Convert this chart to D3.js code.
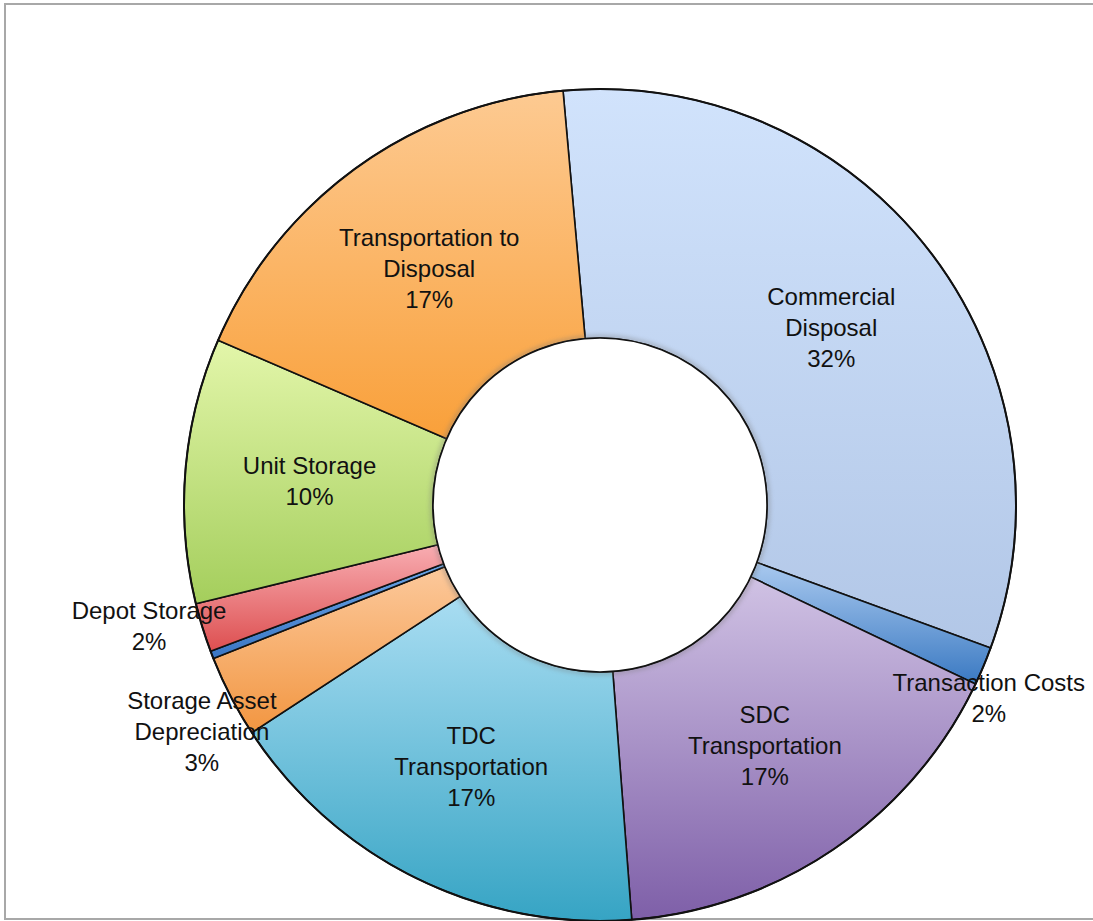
<!DOCTYPE html>
<html>
<head>
<meta charset="utf-8">
<script src="https://cdn.jsdelivr.net/npm/d3@7"></script>
<style>
  html, body { margin: 0; padding: 0; background: #fff; overflow: hidden; }
  svg { display: block; }
</style>
</head>
<body>
<svg id="chart" width="1093" height="921"></svg>
<script>
// ---- data (clockwise from the top) ----
const categories = ["Commercial Disposal", "Transaction Costs", "SDC Transportation", "TDC Transportation",
                    "Storage Asset Depreciation", "Other", "Depot Storage", "Unit Storage", "Transportation to Disposal"];
const values = [32.0, 1.5, 16.7, 17.0, 3.2, 0.3, 1.9, 10.3, 17.1];
const labelLines = [["Commercial", "Disposal"], ["Transaction Costs"], ["SDC", "Transportation"], ["TDC", "Transportation"],
                    ["Storage Asset", "Depreciation"], null, ["Depot Storage"], ["Unit Storage"], ["Transportation to", "Disposal"]];
const colorsTop = ["#d1e3fc", "#a9c9ef", "#d0c2e4", "#a9ddf2", "#fcc99c", "#6aa5e6", "#f8adb2", "#e3f6aa", "#fdca92"];
const colorsBottom = ["#b2c7e7", "#3a79c2", "#7e5fa8", "#36a4c4", "#f29641", "#3a76c4", "#dd4f50", "#a4ce5c", "#f9a03a"];
// label placement: [radius, angle shift in degrees]; null = ring centroid
const labelPlace = [null, [434, 3.6], null, null, [458, -2.2], null, [467, 2.1], null, null];

const cx = 600, cy = 505, rOuter = 416, rInner = 167;
const startDeg = -5.1;

const svg = d3.select("#chart");
const defs = svg.append("defs");

// frame (right edge runs off the page)
svg.append("rect").attr("x", 5).attr("y", 4).attr("width", 1200).attr("height", 915)
  .attr("fill", "#fff").attr("stroke", "#a8a8a8").attr("stroke-width", 2);

const f = defs.append("filter").attr("id", "sh").attr("x", "-20%").attr("y", "-20%").attr("width", "140%").attr("height", "140%");
f.append("feGaussianBlur").attr("stdDeviation", 2.5);

categories.forEach((c, i) => {
  const g = defs.append("linearGradient").attr("id", "grad" + i)
    .attr("x1", 0).attr("y1", 0).attr("x2", 0).attr("y2", 1);
  g.append("stop").attr("offset", "0%").attr("stop-color", colorsTop[i]);
  g.append("stop").attr("offset", "100%").attr("stop-color", colorsBottom[i]);
});

const start = startDeg * Math.PI / 180;
const pie = d3.pie().sort(null).value(d => d)
  .startAngle(start).endAngle(start + 2 * Math.PI);
const arcs = pie(values);
const arc = d3.arc().innerRadius(rInner).outerRadius(rOuter);

const gPie = svg.append("g").attr("transform", `translate(${cx},${cy})`);

gPie.selectAll("path.slice").data(arcs).enter().append("path")
  .attr("class", "slice")
  .attr("d", arc)
  .attr("fill", (d, i) => `url(#grad${i})`)
  .attr("stroke", "#111")
  .attr("stroke-width", 1.6)
  .attr("stroke-linejoin", "round");

gPie.append("circle").attr("r", rOuter).attr("fill", "none").attr("stroke", "#111").attr("stroke-width", 2);
gPie.append("circle").attr("r", rInner + 1).attr("fill", "none").attr("stroke", "#777").attr("stroke-width", 3)
  .attr("filter", "url(#sh)").attr("opacity", 0.6);
gPie.append("circle").attr("r", rInner).attr("fill", "#fff").attr("stroke", "#111").attr("stroke-width", 1.6);

// labels
const fmt = v => Math.round(v) + "%";
const lineH = 31;
const gLab = gPie.append("g")
  .attr("font-family", "'Liberation Sans', Arial, Helvetica, sans-serif")
  .attr("font-size", 24).attr("fill", "#111").attr("text-anchor", "middle");

arcs.forEach((d, i) => {
  if (!labelLines[i]) return;
  let x, y;
  const mid = (d.startAngle + d.endAngle) / 2;
  if (labelPlace[i]) {
    const a = mid + labelPlace[i][1] * Math.PI / 180;
    x = labelPlace[i][0] * Math.sin(a);
    y = -labelPlace[i][0] * Math.cos(a);
  } else {
    const r = (rInner + rOuter) / 2;
    x = r * Math.sin(mid);
    y = -r * Math.cos(mid);
  }
  const lines = labelLines[i].concat([fmt(d.value)]);
  const n = lines.length;
  const t = gLab.append("text").attr("x", x).attr("y", y);
  lines.forEach((ln, k) => {
    t.append("tspan").attr("x", x)
      .attr("y", y + (k - (n - 1) / 2) * lineH)
      .attr("dy", "0.35em")
      .text(ln);
  });
});
</script>
</body>
</html>
